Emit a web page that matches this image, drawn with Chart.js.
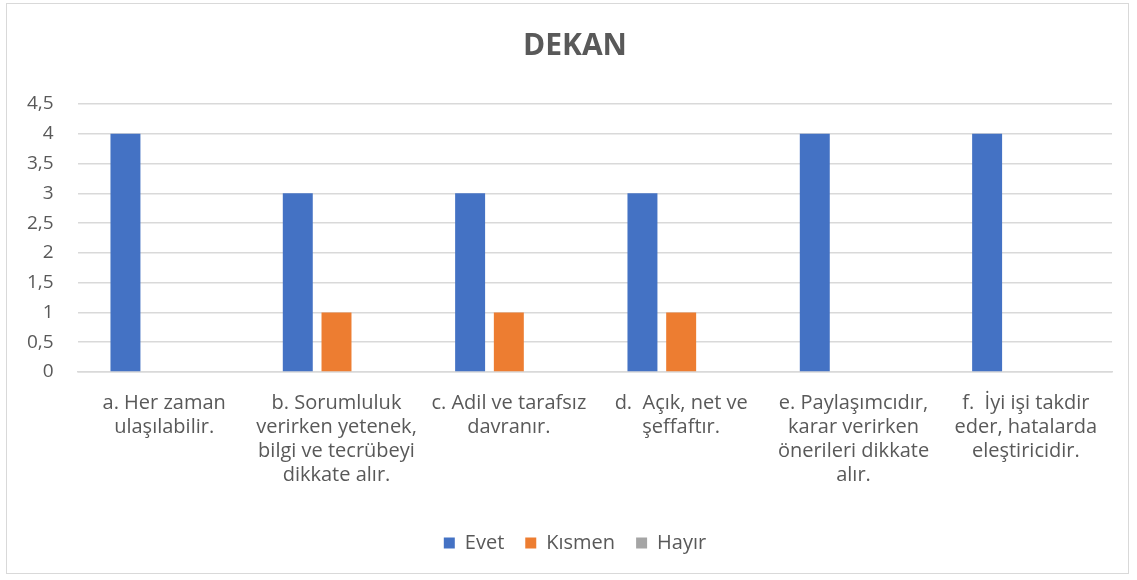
<!DOCTYPE html>
<html>
<head>
<meta charset="utf-8">
<script src="https://cdn.jsdelivr.net/npm/chart.js@4"></script>
<style>
  html, body { margin: 0; padding: 0; background: #fff; }
  #frame {
    position: absolute; left: 6px; top: 3px;
    width: 1123px; height: 571px;
    border: 1px solid #d9d9d9; box-sizing: border-box;
  }
  canvas { display: block; }
</style>
</head>
<body>
<div id="frame"><canvas id="chart" width="1121" height="569"></canvas></div>
<script>
const categories = [
  ["a. Her zaman", "ulaşılabilir."],
  ["b. Sorumluluk", "verirken yetenek,", "bilgi ve tecrübeyi", "dikkate alır."],
  ["c. Adil ve tarafsız", "davranır."],
  ["d.  Açık, net ve", "şeffaftır."],
  ["e. Paylaşımcıdır,", "karar verirken", "önerileri dikkate", "alır."],
  ["f.  İyi işi takdir", "eder, hatalarda", "eleştiricidir."],
];
const evet = [4, 3, 3, 3, 4, 4];
const kismen = [0, 1, 1, 1, 0, 0];
const hayir = [0, 0, 0, 0, 0, 0];

const FONT = "'Open Sans', Lato, sans-serif";
const TEXT = "#595959";

new Chart(document.getElementById("chart"), {
  type: "bar",
  data: {
    labels: categories,
    datasets: [
      { label: "Evet", data: evet, backgroundColor: "#4472C4" },
      { label: "Kısmen", data: kismen, backgroundColor: "#ED7D31" },
      { label: "Hayır", data: hayir, backgroundColor: "#A5A5A5" },
    ],
  },
  options: {
    responsive: false,
    animation: false,
    layout: { padding: { left: 31, right: 16, top: 0, bottom: 10 } },
    datasets: { bar: { barPercentage: 0.774, categoryPercentage: 0.674 } },
    plugins: {
      title: {
        display: true,
        text: "DEKAN",
        color: TEXT,
        font: { family: FONT, size: 30, weight: "bold" },
        padding: { top: 24, bottom: 40 },
      },
      legend: {
        position: "bottom",
        labels: {
          color: TEXT,
          font: { family: FONT, size: 20 },
          boxWidth: 11,
          boxHeight: 11,
          padding: 21,
        },
      },
      tooltip: { enabled: false },
    },
    scales: {
      x: {
        grid: { display: false },
        border: { color: "#d9d9d9", width: 1.5 },
        afterFit: (s) => { s.height = 140; },
        ticks: {
          color: TEXT,
          font: { family: FONT, size: 20, lineHeight: 1.2 },
          maxRotation: 0,
          autoSkip: false,
          padding: 11,
        },
      },
      y: {
        min: 0,
        max: 4.5,
        afterFit: (s) => { s.width = 40; },
        grid: { color: "#d9d9d9", lineWidth: 1.5, drawTicks: false },
        border: { display: false },
        ticks: {
          stepSize: 0.5,
          color: TEXT,
          font: { family: FONT, size: 19 },
          // mirrored so the labels are not clipped; pulled back left of the axis
          mirror: true,
          crossAlign: "far",
          padding: -51,
          callback: (v) => String(v).replace(".", ","),
        },
      },
    },
  },
});
</script>
</body>
</html>
